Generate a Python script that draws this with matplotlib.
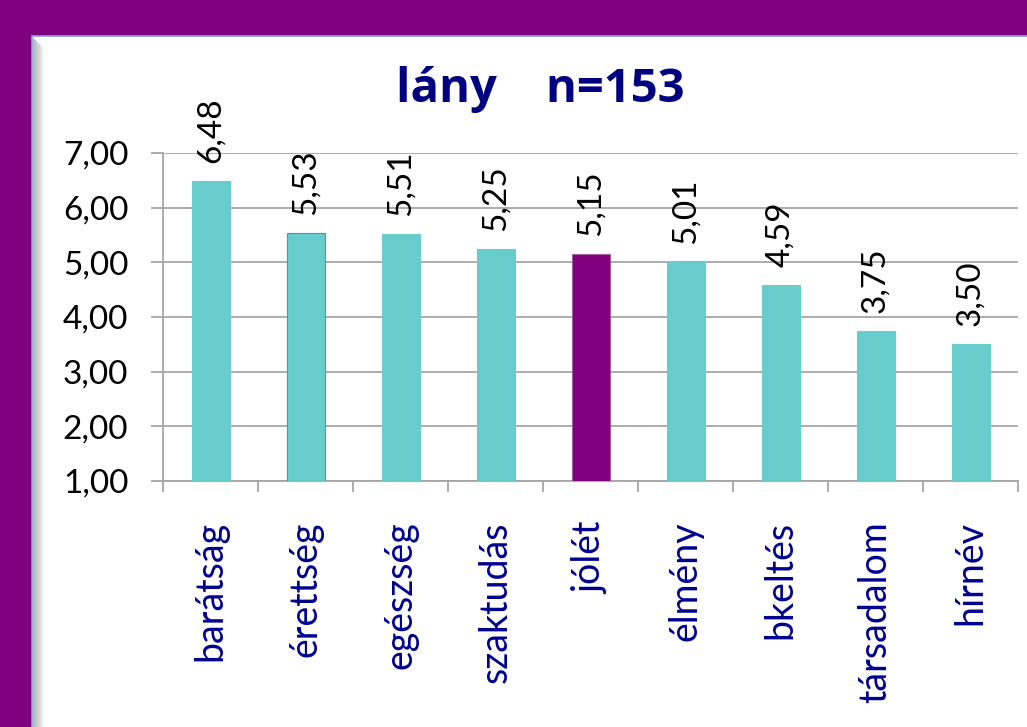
import matplotlib
matplotlib.use("Agg")
import matplotlib.pyplot as plt
from matplotlib.patches import Rectangle
from matplotlib.ticker import FixedLocator, FuncFormatter
import numpy as np

categories = ["barátság", "érettség", "egészség", "szaktudás", "jólét",
              "élmény", "bkeltés", "társadalom", "hírnév"]
values = [6.48, 5.53, 5.51, 5.25, 5.15, 5.01, 4.59, 3.75, 3.50]
highlight = "jólét"
title_text = "lány    n=153"
yticks = [1, 2, 3, 4, 5, 6, 7]

plt.rcParams['font.family'] = ['Lato', 'DejaVu Sans']

W, H = 1027, 727
fig = plt.figure(figsize=(W / 100, H / 100), dpi=100)
fig.patch.set_facecolor('#800080')

def px(x, y, w, h):
    return (x / W, 1 - (y + h) / H, w / W, h / H)

# white panel with thin blue border and grey left shadow
x0, y0, w0, h0 = px(32, 36, 1100, 800)
fig.patches.append(Rectangle((x0, y0), w0, h0, transform=fig.transFigure,
                             facecolor='white', edgecolor='#7ea6d8', linewidth=1.2, zorder=0))
for i, c in enumerate(['#b8b8b8', '#bdbdbd', '#c3c3c3', '#c8c8c8', '#cecece', '#d4d4d4',
                       '#dadada', '#e0e0e0', '#e8e8e8', '#f0f0f0', '#f8f8f8']):
    xs, ys, ws, hs = px(33 + i, 38 + i, 1, 800)
    fig.patches.append(Rectangle((xs, ys), ws, hs, transform=fig.transFigure,
                                 facecolor=c, edgecolor='none', zorder=0.5))

ax = fig.add_axes(px(163, 153, 855, 328))
ax.set_zorder(5)
ax.set_facecolor('none')

x = np.arange(len(categories))
colors = ['#800080' if c == highlight else '#66CCCC' for c in categories]
edges = ['#a060a0' if c == highlight else '#66CCCC' for c in categories]
edges[1] = '#5a88c8'
ax.bar(x, [v - 1 for v in values], bottom=1, width=0.4, color=colors,
       edgecolor=edges, linewidth=0.8, zorder=3)

for xi, v in zip(x, values):
    ax.annotate(f"{v:.2f}".replace('.', ','), (xi, v), xytext=(0, 13),
                textcoords='offset points', rotation=90, ha='center', va='bottom',
                fontsize=24, color='black', zorder=4)

ax.set_xlim(-0.5, len(categories) - 0.5)
ax.set_ylim(1, 7)
ax.set_yticks(yticks)
ax.yaxis.set_major_formatter(FuncFormatter(lambda v, p: f"{v:.2f}".replace('.', ',')))
ax.grid(axis='y', color='#a6a6a6', linewidth=1.3, zorder=1)
ax.set_axisbelow(True)

ax.set_xticks(x)
ax.set_xticklabels(categories, rotation=90, fontsize=27, color='#000090')
ax.xaxis.set_minor_locator(FixedLocator(np.arange(-0.5, len(categories), 1.0)))
ax.tick_params(axis='x', which='major', length=0, pad=29)
ax.tick_params(axis='x', which='minor', length=8, width=1.3, color='#a6a6a6')
ax.tick_params(axis='y', which='major', length=9, width=1.3, color='#a6a6a6',
               labelsize=24, pad=16, labelcolor='black')

for s in ['top', 'right']:
    ax.spines[s].set_visible(False)
for s in ['left', 'bottom']:
    ax.spines[s].set_color('#a6a6a6')
    ax.spines[s].set_linewidth(1.3)

fig.text(540 / W, 1 - 102 / H, title_text, ha='center', va='baseline',
         fontsize=34, fontweight='bold', color='#000080',
         family=['Open Sans', 'DejaVu Sans'], zorder=6)

fig.savefig('out.png', dpi=100, facecolor=fig.get_facecolor())
